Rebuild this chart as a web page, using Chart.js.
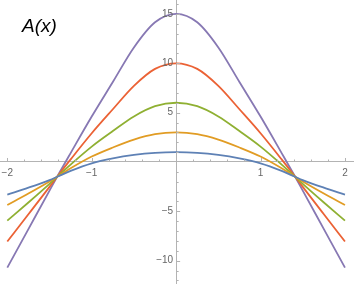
<!DOCTYPE html>
<html>
<head>
<meta charset="utf-8">
<script src="https://cdn.jsdelivr.net/npm/chart.js@4"></script>
<style>
  html, body { margin: 0; padding: 0; background: #fff; }
  .wrap { position: relative; width: 354px; height: 284px; }
  .title {
    position: absolute; left: 22px; top: 15px;
    font-family: "Liberation Sans", Arial, sans-serif;
    font-style: italic; font-size: 19px; color: #000;
  }
</style>
</head>
<body>
<div class="wrap">
  <canvas id="myChart" width="354" height="284"></canvas>
  <div class="title">A(x)</div>
</div>
<script>
// Data
const x_values = [-2, -1.75, -1.5, -1.41, -1.25, -1, -0.75, -0.5, -0.25, 0, 0.25, 0.5, 0.75, 1, 1.25, 1.41, 1.5, 1.75, 2];
const curve_1 = [-3.3, -2.6, -1.83, -1.5, -0.9, -0.13, 0.37, 0.72, 0.93, 1, 0.93, 0.72, 0.37, -0.13, -0.9, -1.5, -1.83, -2.6, -3.3];
const curve_3 = [-4.36, -3.2, -1.98, -1.5, -0.64, 0.55, 1.47, 2.27, 2.82, 3, 2.82, 2.27, 1.47, 0.55, -0.64, -1.5, -1.98, -3.2, -4.36];
const curve_6 = [-5.94, -4.1, -2.21, -1.5, -0.26, 1.56, 3.13, 4.61, 5.65, 6, 5.65, 4.61, 3.13, 1.56, -0.26, -1.5, -2.21, -4.1, -5.94];
const curve_10 = [-8.06, -5.3, -2.52, -1.5, 0.26, 2.91, 5.34, 7.71, 9.43, 10, 9.43, 7.71, 5.34, 2.91, 0.26, -1.5, -2.52, -5.3, -8.06];
const curve_15 = [-10.7, -6.8, -2.9, -1.5, 0.9, 4.6, 8.1, 11.6, 14.15, 15, 14.15, 11.6, 8.1, 4.6, 0.9, -1.5, -2.9, -6.8, -10.7];
const x_tick_labels = [-2, -1, 1, 2];
const y_tick_labels = [-10, -5, 5, 10, 15];

const colors = ["#5e81b5", "#e19c24", "#8fb032", "#eb6235", "#8778b3"];
const all_curves = [curve_1, curve_3, curve_6, curve_10, curve_15];

const ctx = document.getElementById("myChart").getContext("2d");

function toPoints(values) {
  return x_values.map((x, i) => ({ x: x, y: values[i] }));
}

function fmt(v) {
  return v < 0 ? "\u2212" + Math.abs(v) : String(v);
}

// tick marks drawn inward and labels placed like the original
const axisDecor = {
  id: "axisDecor",
  afterDraw(chart) {
    const xs = chart.scales.x;
    const ys = chart.scales.y;
    const x0 = xs.getPixelForValue(0);
    const y0 = ys.getPixelForValue(0);
    const c = chart.ctx;
    c.save();
    c.strokeStyle = "#b3b3b3";
    c.lineWidth = 1;
    c.beginPath();
    for (let i = -10; i <= 10; i++) {
      if (i === 0) continue;
      const px = Math.round(xs.getPixelForValue(i * 0.2)) + 0.5;
      const len = i % 5 === 0 ? 4 : 2.5;
      c.moveTo(px, y0);
      c.lineTo(px, y0 - len);
    }
    for (let v = -12; v <= 16; v++) {
      if (v === 0) continue;
      const py = Math.round(ys.getPixelForValue(v)) + 0.5;
      const len = v % 5 === 0 ? 4 : 2.5;
      c.moveTo(x0, py);
      c.lineTo(x0 + len, py);
    }
    c.stroke();

    c.fillStyle = "#666";
    c.font = "10px 'Liberation Sans', Arial, sans-serif";
    c.textBaseline = "middle";
    c.textAlign = "center";
    x_tick_labels.forEach((v) => {
      c.fillText(fmt(v), xs.getPixelForValue(v), y0 + 11);
    });
    c.textAlign = "right";
    y_tick_labels.forEach((v) => {
      c.fillText(fmt(v), x0 - 3, ys.getPixelForValue(v));
    });
    c.restore();
  }
};

const myChart = new Chart(ctx, {
  type: "line",
  data: {
    datasets: all_curves.map((curve, i) => ({
      data: toPoints(curve),
      borderColor: colors[i],
      borderWidth: 1.8,
      pointRadius: 0,
      fill: false,
      cubicInterpolationMode: "monotone"
    }))
  },
  options: {
    responsive: false,
    animation: false,
    layout: { padding: 0 },
    plugins: {
      legend: { display: false },
      tooltip: { enabled: false },
      title: { display: false }
    },
    scales: {
      x: {
        type: "linear",
        min: -2.0865,
        max: 2.107,
        position: { y: 0 },
        grid: { display: false },
        border: { display: true, color: "#b3b3b3", width: 1 },
        ticks: { display: false }
      },
      y: {
        type: "linear",
        min: -12.36,
        max: 16.41,
        position: { x: 0 },
        grid: { display: false },
        border: { display: true, color: "#b3b3b3", width: 1 },
        ticks: { display: false }
      }
    }
  },
  plugins: [axisDecor]
});
</script>
</body>
</html>
